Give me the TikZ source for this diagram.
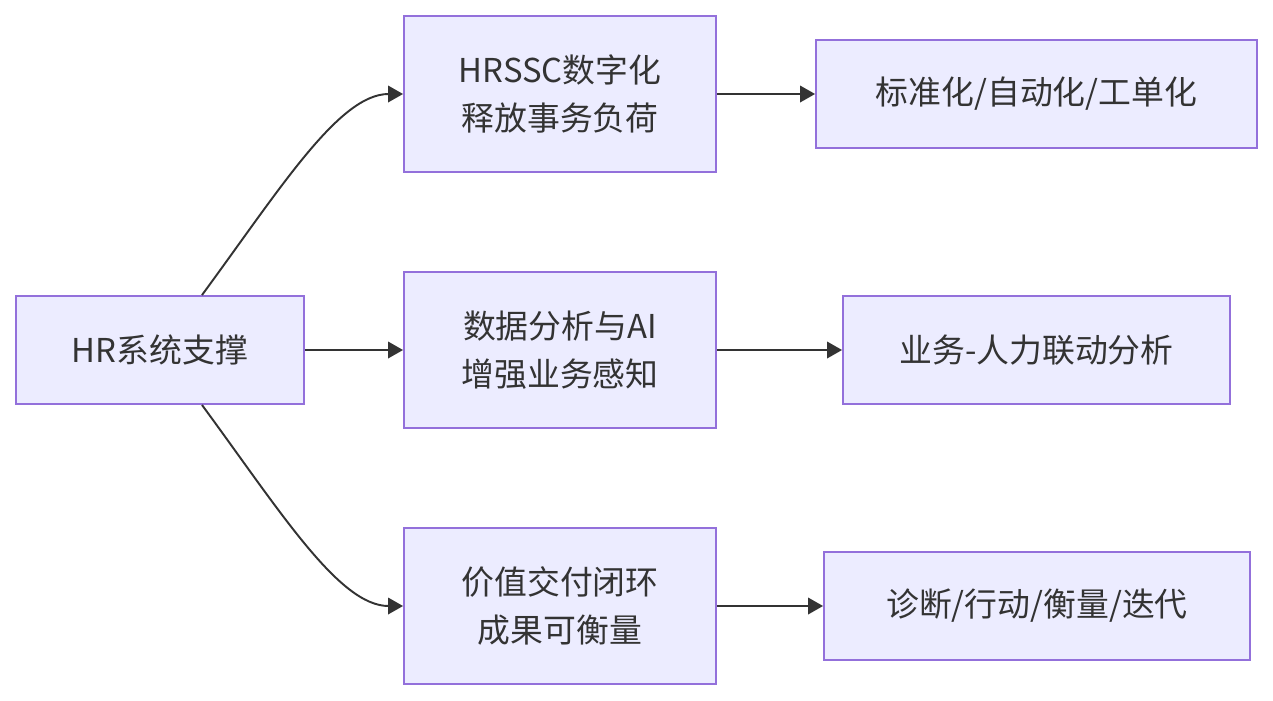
\documentclass[tikz,border=0pt]{standalone}
\usepackage{fontspec}
\setmainfont{Noto Sans CJK SC}
\usepackage{xcolor}
\usepackage{tikz}
\usetikzlibrary{positioning, arrows.meta}

\definecolor{boxfill}{HTML}{ECECFF}
\definecolor{boxline}{HTML}{9370DB}
\definecolor{ink}{HTML}{333333}

\begin{document}
\begin{tikzpicture}[x=0.02cm, y=-0.02cm,
    box/.style={draw=boxline, fill=boxfill, line width=1.1pt, text=ink,
      align=center, inner sep=0pt, font=\fontsize{18.7}{27.5}\selectfont},
    link/.style={draw=ink, line width=1.1pt, -{Triangle[length=0.3cm, width=0.33cm]}}]
  \useasboundingbox (0,0) rectangle (1273,700);

  % Root
  \node[box, minimum width=5.76cm, minimum height=2.16cm] (hr) at (160,350) {HR系统支撑};

  % Middle column
  \node[box, minimum width=6.24cm, minimum height=3.12cm] (m1) at (560,94) {HRSSC数字化\\释放事务负荷};
  \node[box, minimum width=6.24cm, minimum height=3.12cm] (m2) at (560,350) {数据分析与AI\\增强业务感知};
  \node[box, minimum width=6.24cm, minimum height=3.12cm] (m3) at (560,606) {价值交付闭环\\成果可衡量};

  % Right column
  \node[box, minimum width=8.82cm, minimum height=2.16cm] (r1) at (1036.5,94) {标准化/自动化/工单化};
  \node[box, minimum width=7.74cm, minimum height=2.16cm] (r2) at (1036.5,350) {业务-人力联动分析};
  \node[box, minimum width=8.52cm, minimum height=2.16cm] (r3) at (1037,606) {诊断/行动/衡量/迭代};

  % Links
  \draw[link] ([xshift=0.84cm]hr.north) .. controls +(78,-106) and +(-64,0) .. (m1.west);
  \draw[link] (hr) -- (m2);
  \draw[link] ([xshift=0.84cm]hr.south) .. controls +(78,106) and +(-64,0) .. (m3.west);
  \foreach \i in {1,2,3} {
    \draw[link] (m\i) -- (r\i);
  }
\end{tikzpicture}
\end{document}
